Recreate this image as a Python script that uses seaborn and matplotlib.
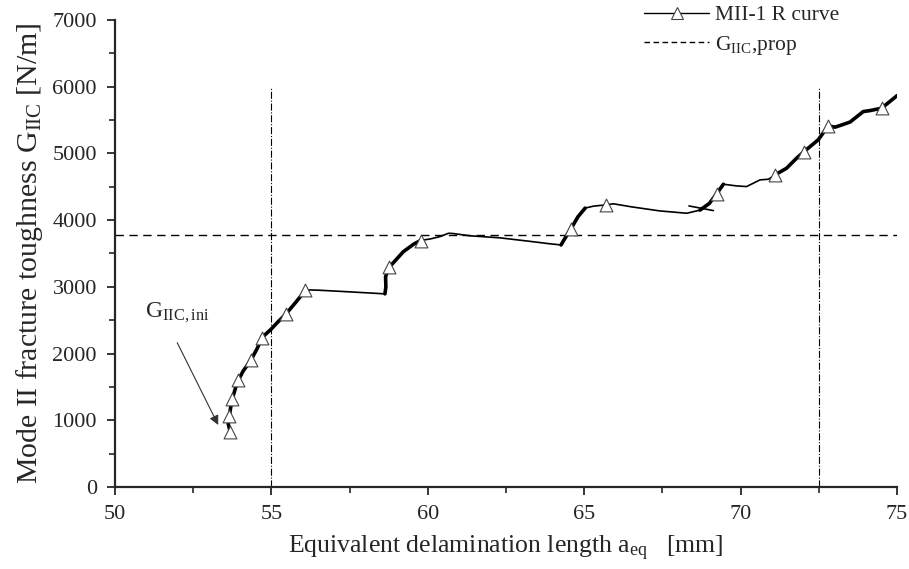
import numpy as np
import pandas as pd
import matplotlib
matplotlib.use("Agg")
import matplotlib.pyplot as plt
from matplotlib.lines import Line2D
from matplotlib.ticker import MultipleLocator
import seaborn as sns

# ---- data ----
curve_x = [53.68, 53.62, 53.66, 53.70, 53.75, 53.85, 53.94, 54.10, 54.35, 54.55, 54.70, 54.99,
           55.20, 55.46, 55.80, 56.10, 56.50, 57.50, 58.63, 58.66, 58.65, 58.72, 58.77, 59.22,
           59.55, 59.77, 60.10, 60.39, 60.66, 60.80, 61.35, 62.30, 63.30, 63.91, 64.26, 64.35,
           64.57, 64.80, 65.03, 65.30, 65.69, 65.93, 66.50, 67.42, 68.28, 68.70, 69.00, 69.23,
           69.45, 69.87, 70.19, 70.62, 70.89, 71.10, 71.47, 71.79, 72.03, 72.48, 72.80, 73.02,
           73.50, 73.92, 74.14, 74.51, 75.00]
curve_y = [830, 950, 1070, 1200, 1320, 1480, 1600, 1740, 1905, 2080, 2240, 2365,
           2470, 2590, 2780, 2955, 2950, 2925, 2895, 3000, 3150, 3250, 3295, 3528,
           3640, 3695, 3720, 3753, 3803, 3800, 3765, 3735, 3680, 3645, 3628, 3700,
           3865, 4050, 4180, 4210, 4228, 4245, 4200, 4138, 4103, 4150, 4250, 4393,
           4538, 4513, 4503, 4603, 4613, 4678, 4778, 4928, 5028, 5203, 5412, 5393,
           5470, 5627, 5642, 5678, 5865]

cross_x = [68.35, 69.13]
cross_y = [4213, 4143]

marker_x = [53.68, 53.65, 53.75, 53.94, 54.35, 54.70, 55.46, 56.08, 58.77, 59.77,
            64.57, 65.69, 69.23, 71.10, 72.03, 72.80, 74.51]
marker_y = [830, 1070, 1320, 1600, 1905, 2240, 2590, 2955, 3295, 3690,
            3865, 4228, 4393, 4678, 5028, 5412, 5678]

G_prop = 3780
vlines_x = [55.0, 72.5]
vline_top = 6000

x_ticks = [50, 55, 60, 65, 70, 75]
y_ticks = [0, 1000, 2000, 3000, 4000, 5000, 6000, 7000]

# ---- style ----
sns.set_style("ticks")
plt.rcParams['font.family'] = ['Liberation Serif', 'DejaVu Serif']
plt.rcParams['mathtext.fontset'] = 'custom'
plt.rcParams['mathtext.rm'] = 'Liberation Serif'
plt.rcParams['mathtext.it'] = 'Liberation Serif:italic'

fig = plt.figure(figsize=(9.09, 5.69), dpi=100)
ax = fig.add_axes([0.1265, 0.1441, 0.8603, 0.8208])

df = pd.DataFrame({"x": curve_x, "y": curve_y})
sns.lineplot(data=df, x="x", y="y", sort=False, estimator=None, color="black", lw=1.2, ax=ax)

# denser (thicker-looking) parts of the measured curve
thick_ranges = [(53.5, 56.12), (58.62, 59.8), (64.2, 65.05), (68.65, 69.5), (71.0, 75.1)]
xs = np.array(curve_x); ys = np.array(curve_y)
for lo, hi in thick_ranges:
    m = (xs >= lo) & (xs <= hi)
    ax.plot(xs[m], ys[m], color="black", lw=2.6, solid_capstyle="round")

ax.plot(cross_x, cross_y, color="black", lw=1.2)

sns.scatterplot(x=marker_x, y=marker_y, marker="^", s=85, facecolor="white",
                edgecolor="#444444", linewidth=0.8, zorder=5, ax=ax)

ax.axhline(G_prop, color="black", lw=1.0, ls=(0, (6, 4)))
for vx in vlines_x:
    ax.plot([vx, vx], [0, vline_top], color="black", lw=0.8, ls="-.")

ax.text(50.96, 2549, "G$_{\\mathrm{IIC,ini}}$", fontsize=17, va="baseline", ha="left")
ax.annotate("", xy=(53.30, 930), xytext=(51.99, 2163),
            arrowprops=dict(arrowstyle="-|>", color="#333333", lw=0.8,
                            shrinkA=0, shrinkB=0, mutation_scale=14))

ax.set_xlim(50, 75)
ax.set_ylim(0, 7000)
ax.set_xticks(x_ticks)
ax.set_yticks(y_ticks)
ax.xaxis.set_minor_locator(MultipleLocator(2.5))
ax.yaxis.set_minor_locator(MultipleLocator(500))
ax.tick_params(axis="both", which="major", direction="out", length=6, width=1.3, labelsize=16)
ax.tick_params(axis="x", which="major", pad=7)
ax.tick_params(axis="y", which="major", pad=7)
ax.tick_params(axis="both", which="minor", direction="out", length=4, width=1.2)
for s in ["left", "bottom"]:
    ax.spines[s].set_linewidth(1.6)
sns.despine(ax=ax)

ax.set_xlabel("Equivalent delamination length a$_{\\mathrm{eq}}$   [mm]", fontsize=18.5, labelpad=7)
ax.set_ylabel("Mode II fracture toughness G$_{\\mathrm{IIC}}$ [N/m]", fontsize=21.5, labelpad=5)

handles = [Line2D([], [], color="black", lw=1.0, marker="^", ms=9, mfc="white", mec="#444444", mew=0.8),
           Line2D([], [], color="black", lw=1.0, ls=(0, (4, 2.5)))]
labels = ["MII-1 R curve", "G$_{\\mathrm{IIC}}$,prop"]
fig.legend(handles, labels, loc="upper right", bbox_to_anchor=(0.945, 1.025), frameon=False,
           fontsize=15.5, handlelength=3.0, handletextpad=0.3, labelspacing=0.4)

fig.savefig("out.png", dpi=100)
